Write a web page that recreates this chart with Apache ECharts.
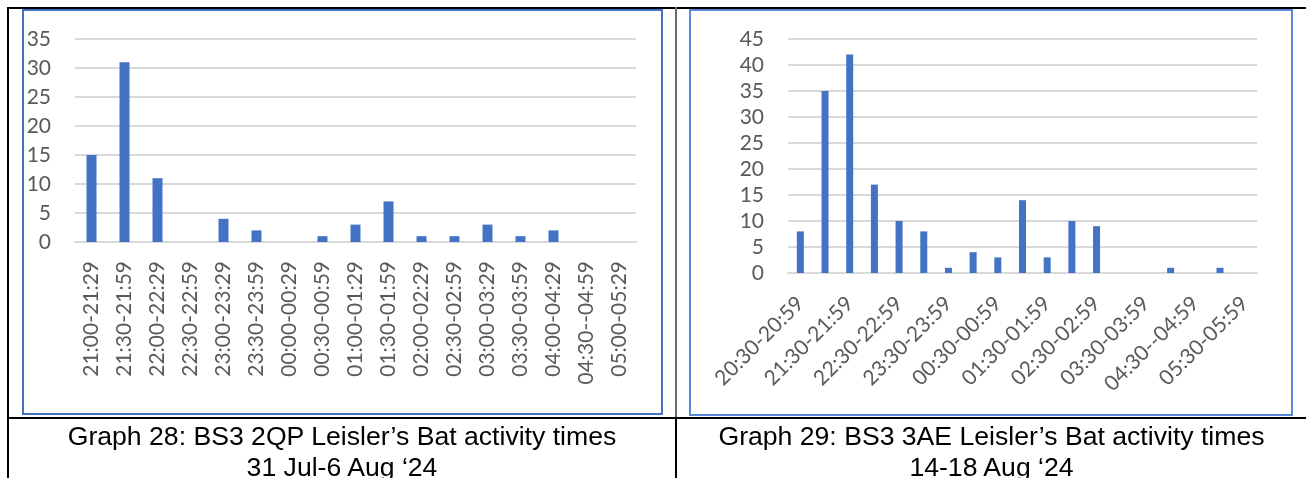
<!DOCTYPE html>
<html><head><meta charset="utf-8">
<script src="https://cdn.jsdelivr.net/npm/echarts@6/dist/echarts.min.js"></script>
<style>
body{margin:0;background:#fff;}
#wrap{position:relative;width:1306px;height:478px;overflow:hidden;background:#fff;}
.ln{position:absolute;background:#000;}
.frame{position:absolute;box-sizing:border-box;border:2px solid #4472C4;}
.cap{position:absolute;font-family:"Liberation Sans",Arial,sans-serif;font-size:25px;color:#000;text-align:center;line-height:31px;white-space:nowrap;transform:scaleX(1.064);transform-origin:50% 50%;}
#chart{position:absolute;left:0;top:0;width:1306px;height:478px;}
</style></head>
<body>
<div id="wrap">
  <div class="ln" style="left:7px;top:7px;width:1299px;height:2px;"></div>
  <div class="ln" style="left:7px;top:7px;width:2px;height:471px;"></div>
  <div class="ln" style="left:675px;top:7px;width:2px;height:410px;background:#6a6a6a;"></div>
  <div class="ln" style="left:675px;top:417px;width:2px;height:61px;"></div>
  <div class="ln" style="left:7px;top:417px;width:1299px;height:2px;"></div>
  <div class="frame" style="left:22px;top:9px;width:641px;height:406px;"></div>
  <div class="frame" style="left:689px;top:9px;width:604px;height:407px;border-color:#5B87D6;"></div>
  <div id="chart"></div>
  <div class="cap" style="left:9px;top:421px;width:666px;">Graph 28: BS3 2QP Leisler’s Bat activity times<br>31 Jul-6 Aug ‘24</div>
  <div class="cap" style="left:677px;top:421px;width:629px;">Graph 29: BS3 3AE Leisler’s Bat activity times<br>14-18 Aug ‘24</div>
</div>
<script>
const cats28 = ['21:00-21:29','21:30-21:59','22:00-22:29','22:30-22:59','23:00-23:29','23:30-23:59','00:00-00:29','00:30-00:59','01:00-01:29','01:30-01:59','02:00-02:29','02:30-02:59','03:00-03:29','03:30-03:59','04:00-04:29','04:30--04:59','05:00-05:29'];
const vals28 = [15,31,11,0,4,2,0,1,3,7,1,1,3,1,2,0,0];
const cats29 = ['20:30-20:59','21:00-21:29','21:30-21:59','22:00-22:29','22:30-22:59','23:00-23:29','23:30-23:59','00:00-00:29','00:30-00:59','01:00-01:29','01:30-01:59','02:00-02:29','02:30-02:59','03:00-03:29','03:30-03:59','04:00-04:29','04:30--04:59','05:00-05:29','05:30-05:59'];
const vals29 = [8,35,42,17,10,8,1,4,3,14,3,10,9,0,0,1,0,1,0];
const yMax28 = 35, yMax29 = 45, yStep = 5;

const fam = 'Lato, "Open Sans", sans-serif';
const xFont = {fontFamily:fam, fontSize:21, color:'#595959'};
const yFont = {fontFamily:fam, fontSize:21, color:'#595959'};
const chart = echarts.init(document.getElementById('chart'), null, {renderer:'canvas'});
chart.setOption({
  animation:false,
  backgroundColor:'transparent',
  grid:[
    {left:75, top:39, width:561, height:203, outerBoundsMode:'none', containLabel:false},
    {left:788, top:39, width:469, height:234, outerBoundsMode:'none', containLabel:false}
  ],
  xAxis:[
    {type:'category', gridIndex:0, data:cats28,
     axisLine:{lineStyle:{color:'#D9D9D9', width:2}}, axisTick:{show:false},
     axisLabel:Object.assign({rotate:90, interval:0, margin:19}, xFont)},
    {type:'category', gridIndex:1, data:cats29,
     axisLine:{lineStyle:{color:'#D9D9D9', width:2}}, axisTick:{show:false},
     axisLabel:Object.assign({rotate:45, interval:1, margin:27}, xFont)}
  ],
  yAxis:[
    {type:'value', gridIndex:0, min:0, max:yMax28, interval:yStep,
     axisLine:{show:false}, axisTick:{show:false},
     splitLine:{lineStyle:{color:'#D9D9D9', width:2}},
     axisLabel:Object.assign({margin:24}, yFont)},
    {type:'value', gridIndex:1, min:0, max:yMax29, interval:yStep,
     axisLine:{show:false}, axisTick:{show:false},
     splitLine:{lineStyle:{color:'#D9D9D9', width:2}},
     axisLabel:Object.assign({margin:24}, yFont)}
  ],
  series:[
    {type:'bar', xAxisIndex:0, yAxisIndex:0, data:vals28, barWidth:10, itemStyle:{color:'#4472C4'}},
    {type:'bar', xAxisIndex:1, yAxisIndex:1, data:vals29, barWidth:7, itemStyle:{color:'#4472C4'}}
  ]
});
</script>
</body></html>
